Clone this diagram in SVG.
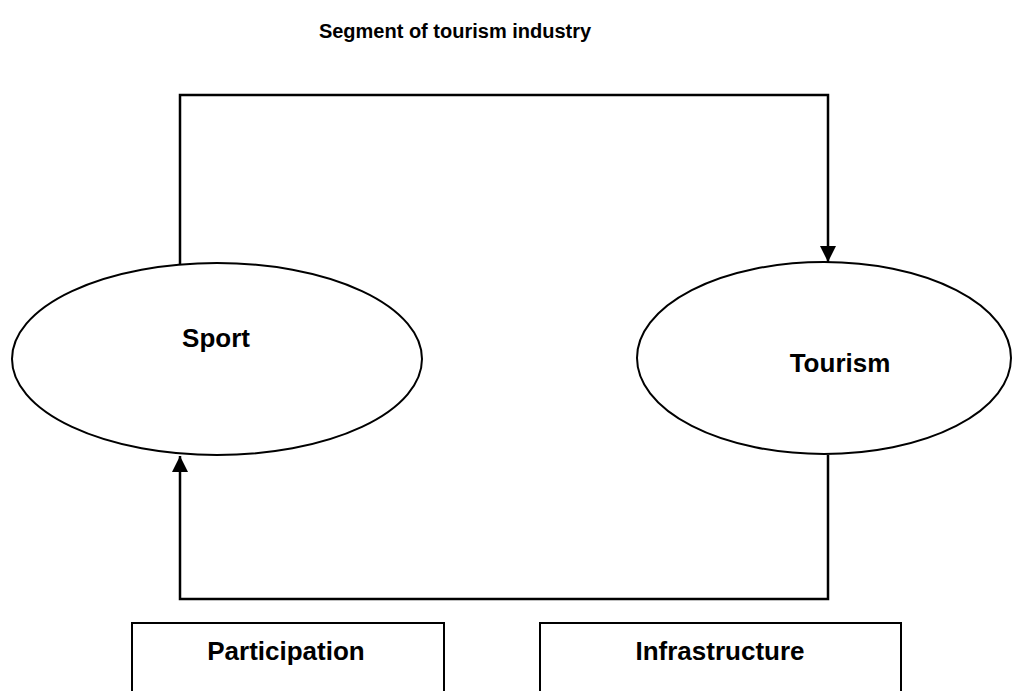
<svg xmlns="http://www.w3.org/2000/svg" width="1012" height="691" viewBox="0 0 1012 691">
<style>
.t{font-family:"Liberation Sans",Arial,sans-serif;font-weight:bold;fill:#000;text-anchor:middle}
.n{fill:#fff;stroke:#000;stroke-width:2}
.c{fill:none;stroke:#000;stroke-width:2.5}
</style>
<defs>
<marker id="ah" markerWidth="16" markerHeight="16" viewBox="0 0 16 16" refX="16" refY="8" orient="auto" markerUnits="userSpaceOnUse">
<path d="M0,0 L16,8 L0,16 Z" fill="#000"/>
</marker>
</defs>
<rect width="1012" height="691" fill="#fff"/>
<text class="t" x="455" y="38" font-size="20">Segment of tourism industry</text>
<g id="sport">
<ellipse class="n" cx="217" cy="359" rx="205" ry="96"/>
<text class="t" x="216" y="347" font-size="26">Sport</text>
</g>
<g id="tourism">
<ellipse class="n" cx="824" cy="358" rx="187" ry="96"/>
<text class="t" x="840" y="372" font-size="26">Tourism</text>
</g>
<g id="participation">
<rect class="n" x="132" y="623" width="312" height="80"/>
<text class="t" x="286" y="660" font-size="26">Participation</text>
</g>
<g id="infrastructure">
<rect class="n" x="540" y="623" width="361" height="80"/>
<text class="t" x="720" y="660" font-size="26">Infrastructure</text>
</g>
<g id="connectors">
<path class="c" d="M180,264 V95 H828 V262" marker-end="url(#ah)"/>
<path class="c" d="M828,455 V599 H180 V456" marker-end="url(#ah)"/>
</g>
</svg>
